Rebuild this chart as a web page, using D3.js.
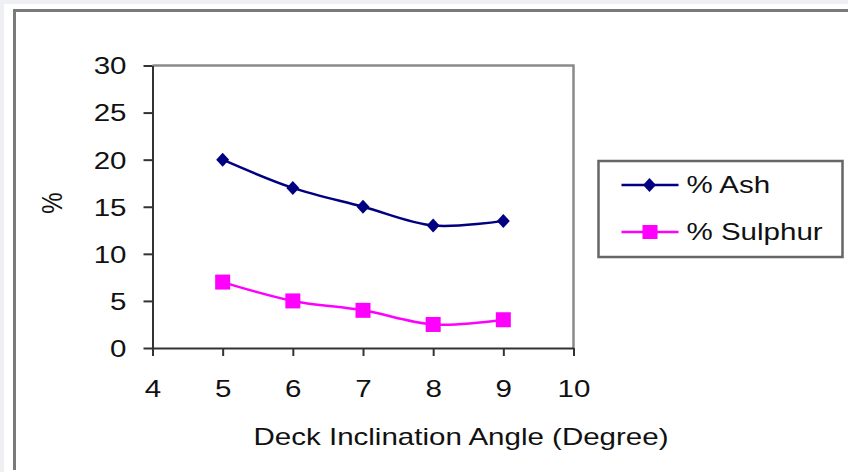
<!DOCTYPE html>
<html>
<head>
<meta charset="utf-8">
<script src="https://cdn.jsdelivr.net/npm/d3@7"></script>
<style>
  body { margin: 0; background: #fff; }
  text { font-family: "Liberation Sans", Arial, sans-serif; fill: #111; }
</style>
</head>
<body>
<div id="chart"></div>
<script>
// data
var angles = [5, 6, 7, 8, 9];
var ashValues = [20, 17, 15, 13, 13.5];
var sulphurValues = [7, 5, 4, 2.5, 3];
var xTicks = [4, 5, 6, 7, 8, 9, 10];
var yTicks = [0, 5, 10, 15, 20, 25, 30];
var seriesNames = ["% Ash", "% Sulphur"];

var W = 848, H = 472;
var stretch = 1.23; // text in the picture is a bit wide
var fontSize = 24;

var svg = d3.select("#chart").append("svg")
    .attr("width", W)
    .attr("height", H);

// page background + frame
svg.append("rect").attr("width", W).attr("height", H).attr("fill", "#eef0f3");
svg.append("rect").attr("x", 4).attr("y", 4).attr("width", W - 4).attr("height", H - 4).attr("fill", "#fff");
svg.append("path")
    .attr("d", "M14.5,470V10.5H848")
    .attr("fill", "none")
    .attr("stroke", "#7a7a7a")
    .attr("stroke-width", 3);

var x = d3.scaleLinear().domain([4, 10]).range([152.5, 573.5]);
var y = d3.scaleLinear().domain([0, 30]).range([348, 65.5]);

// plot frame (top / right in gray)
svg.append("path")
    .attr("d", "M" + x(4) + "," + y(30) + "H" + x(10) + "V" + y(0))
    .attr("fill", "none")
    .attr("stroke", "#8a8a8a")
    .attr("stroke-width", 2.5);

// Y axis
var yAxis = svg.append("g")
    .attr("transform", "translate(" + x(4) + ",0)")
    .call(d3.axisLeft(y).tickValues(yTicks).tickSize(9).tickSizeOuter(0).tickFormat(d3.format("d")));
yAxis.select(".domain").attr("stroke", "#333").attr("stroke-width", 2);
yAxis.selectAll(".tick line").attr("stroke", "#333").attr("stroke-width", 2);
yAxis.selectAll("text")
    .attr("x", 0)
    .attr("dy", "0.35em")
    .attr("transform", "translate(-26,0) scale(" + stretch + ",1)")
    .style("font-size", fontSize + "px")
    .style("fill", "#111");

// X axis
var xAxis = svg.append("g")
    .attr("transform", "translate(0," + y(0) + ")")
    .call(d3.axisBottom(x).tickValues(xTicks).tickSize(8).tickSizeOuter(0).tickFormat(d3.format("d")));
xAxis.select(".domain").attr("stroke", "#333").attr("stroke-width", 2);
xAxis.selectAll(".tick line").attr("stroke", "#333").attr("stroke-width", 2);
xAxis.selectAll("text")
    .attr("y", 32)
    .attr("dy", "0.71em")
    .attr("transform", "scale(" + stretch + ",1)")
    .style("font-size", fontSize + "px")
    .style("fill", "#111");

// axis titles
svg.append("text")
    .attr("text-anchor", "middle")
    .attr("transform", "translate(461,445) scale(" + stretch + ",1)")
    .style("font-size", fontSize + "px")
    .text("Deck Inclination Angle (Degree)");

svg.append("text")
    .attr("text-anchor", "middle")
    .attr("transform", "translate(62,203) scale(" + stretch + ",1) rotate(-90)")
    .style("font-size", fontSize + "px")
    .text("%");

// lines
var line = d3.line()
    .x(function (d) { return x(d[0]); })
    .y(function (d) { return y(d[1]); })
    .curve(d3.curveCatmullRom);

var ash = angles.map(function (a, i) { return [a, ashValues[i]]; });
var sulphur = angles.map(function (a, i) { return [a, sulphurValues[i]]; });

var diamond = "M0,-7L6.5,0L0,7L-6.5,0Z";

svg.append("path")
    .datum(ash)
    .attr("d", line)
    .attr("fill", "none")
    .attr("stroke", "#000080")
    .attr("stroke-width", 2.5);

svg.append("path")
    .datum(sulphur)
    .attr("d", line)
    .attr("fill", "none")
    .attr("stroke", "#ff00ff")
    .attr("stroke-width", 2.5);

svg.append("g").selectAll("path")
    .data(ash)
    .enter()
    .append("path")
    .attr("d", diamond)
    .attr("transform", function (d) { return "translate(" + x(d[0]) + "," + y(d[1]) + ")"; })
    .attr("fill", "#000080");

svg.append("g").selectAll("rect")
    .data(sulphur)
    .enter()
    .append("rect")
    .attr("x", function (d) { return x(d[0]) - 7.5; })
    .attr("y", function (d) { return y(d[1]) - 7.5; })
    .attr("width", 15)
    .attr("height", 15)
    .attr("fill", "#ff00ff");

// legend
var legend = svg.append("g").attr("transform", "translate(598.5,161)");
legend.append("rect")
    .attr("width", 244)
    .attr("height", 96)
    .attr("fill", "#fff")
    .attr("stroke", "#666")
    .attr("stroke-width", 2.5);

var legendColors = ["#000080", "#ff00ff"];
seriesNames.forEach(function (name, i) {
    var ly = 24 + i * 47;
    legend.append("line")
        .attr("x1", 23).attr("x2", 80)
        .attr("y1", ly).attr("y2", ly)
        .attr("stroke", legendColors[i])
        .attr("stroke-width", 2.5);
    if (i === 0) {
        legend.append("path")
            .attr("d", diamond)
            .attr("transform", "translate(51," + ly + ")")
            .attr("fill", legendColors[i]);
    } else {
        legend.append("rect")
            .attr("x", 44).attr("y", ly - 7)
            .attr("width", 15).attr("height", 14)
            .attr("fill", legendColors[i]);
    }
    legend.append("text")
        .attr("transform", "translate(88," + (ly + 8) + ") scale(" + stretch + ",1)")
        .style("font-size", fontSize + "px")
        .text(name);
});
</script>
</body>
</html>
